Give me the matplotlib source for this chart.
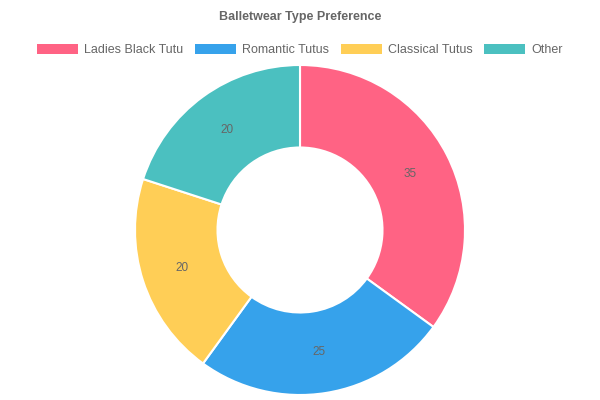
import matplotlib.pyplot as plt
from matplotlib.patches import Patch

labels = ['Ladies Black Tutu', 'Romantic Tutus', 'Classical Tutus', 'Other']
values = [35, 25, 20, 20]
colors = ['#FF6384', '#36A2EB', '#FFCE56', '#4BC0C0']

plt.rcParams['font.family'] = ['Liberation Sans', 'DejaVu Sans']
fig = plt.figure(figsize=(6, 4), dpi=100)
ax = fig.add_axes([0.225, 0.0125, 0.55, 0.825])

wedges, texts = ax.pie(values, colors=colors, startangle=90, counterclock=False,
                       radius=1, wedgeprops=dict(width=0.5, edgecolor='white', linewidth=1.5),
                       labels=[str(v) for v in values], labeldistance=0.75,
                       textprops=dict(color='#666666', fontsize=8.5, ha='center', va='center'))
ax.set_xlim(-1, 1)
ax.set_ylim(-1, 1)
ax.set_aspect('equal')

fig.text(0.5, 0.957, 'Balletwear Type Preference', ha='center', va='center',
         fontsize=9, fontweight='bold', color='#666666')
handles = [Patch(facecolor=c, label=l) for c, l in zip(colors, labels)]
fig.legend(handles=handles, loc='center', bbox_to_anchor=(0.5, 0.875), ncol=4, frameon=False,
           handlelength=3.3, handleheight=0.9, handletextpad=0.5, columnspacing=0.9,
           fontsize=9, labelcolor='#666666')
fig.savefig('out.png', dpi=100)
